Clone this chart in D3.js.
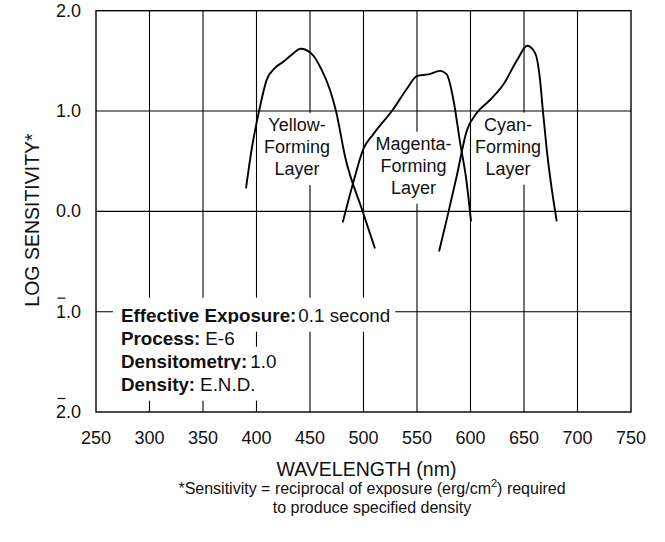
<!DOCTYPE html>
<html>
<head>
<meta charset="utf-8">
<script src="https://cdn.jsdelivr.net/npm/d3@7"></script>
<style>
  html, body { margin: 0; padding: 0; background: #fff; }
  svg { display: block; font-family: "Liberation Sans", Arial, Helvetica, sans-serif; }
</style>
</head>
<body>
<svg id="chart" width="665" height="542"></svg>
<script>
// ---- data ----
const xTicks = [250, 300, 350, 400, 450, 500, 550, 600, 650, 700, 750];
const yTicks = [2, 1, 0, -1, -2];
const yTickLabels = ["2.0", "1.0", "0.0", "1.0", "2.0"];
const yTickBar = [false, false, false, true, true];   // bar (negative characteristic) notation

const yellowWl = [390.2, 395.5, 402.6, 409.5, 417.3, 425, 432.9, 441.3, 451.6, 460.9, 468.7, 474.3, 482.7, 499.2, 510.7];
const yellowLs = [0.23, 0.62, 1.01, 1.31, 1.43, 1.49, 1.56, 1.62, 1.57, 1.41, 1.21, 1.00, 0.55, 0.0, -0.37];

const magentaWl = [480.6, 490.5, 499.8, 509.2, 527.9, 540.4, 550.3, 560.6, 571.5, 577.8, 583.9, 590.2, 596.4, 600.5];
const magentaLs = [-0.11, 0.29, 0.62, 0.77, 1.02, 1.22, 1.35, 1.365, 1.40, 1.365, 1.12, 0.69, 0.29, -0.10];

const cyanWl = [570.6, 577.8, 587.1, 596.4, 605.8, 618.2, 630.7, 643.2, 653.1, 660.3, 665, 667.5, 671.2, 680.6];
const cyanLs = [-0.40, -0.08, 0.35, 0.80, 0.98, 1.11, 1.265, 1.50, 1.65, 1.58, 1.31, 1.02, 0.62, -0.10];

const layerLabels = [
  { lines: ["Yellow-", "Forming", "Layer"], wl: 437.9, ls: 0.582 },
  { lines: ["Magenta-", "Forming", "Layer"], wl: 546.7, ls: 0.395 },
  { lines: ["Cyan-", "Forming", "Layer"], wl: 635.0, ls: 0.585 }
];

const notes = [
  { bold: "Effective Exposure:", value: "0.1 second", gap: 2 },
  { bold: "Process:", value: "E-6", gap: 5 },
  { bold: "Densitometry:", value: "1.0", gap: 3 },
  { bold: "Density:", value: "E.N.D.", gap: 5 }
];

// ---- layout ----
const svg = d3.select("#chart");
const x = d3.scaleLinear().domain([250, 750]).range([96, 631]);
const y = d3.scaleLinear().domain([-2, 2]).range([412, 10.7]);

// grid
const grid = svg.append("g").attr("stroke", "#000").attr("stroke-width", 1.1);
grid.selectAll("line.v").data(xTicks.slice(1, -1)).join("line")
  .attr("x1", d => x(d)).attr("x2", d => x(d))
  .attr("y1", y(2)).attr("y2", y(-2));
grid.selectAll("line.h").data(yTicks.slice(1, -1)).join("line")
  .attr("x1", x(250)).attr("x2", x(750))
  .attr("y1", d => y(d)).attr("y2", d => y(d));

// x tick labels
svg.append("g").selectAll("text").data(xTicks).join("text")
  .attr("x", d => x(d)).attr("y", 444)
  .attr("text-anchor", "middle").attr("font-size", 18).attr("fill", "#111")
  .text(d => d);

// y tick labels with bar notation
const yl = svg.append("g");
yTicks.forEach((t, i) => {
  const tx = yl.append("text")
    .attr("x", 81).attr("y", y(t) + 6)
    .attr("text-anchor", "end").attr("font-size", 18).attr("fill", "#111")
    .text(yTickLabels[i]);
  if (yTickBar[i]) {
    const bb = tx.node().getBBox();
    const w1 = tx.node().getSubStringLength(0, 1);
    yl.append("line")
      .attr("x1", bb.x + 1.5).attr("x2", bb.x + w1 - 0.5)
      .attr("y1", y(t) - 13.5).attr("y2", y(t) - 13.5)
      .attr("stroke", "#111").attr("stroke-width", 1.2);
  }
});

// axis titles
svg.append("text")
  .attr("transform", `translate(39,220) rotate(-90)`)
  .attr("text-anchor", "middle").attr("font-size", 19.5).attr("fill", "#111")
  .text("LOG SENSITIVITY*");
svg.append("text")
  .attr("x", 366.5).attr("y", 476)
  .attr("text-anchor", "middle").attr("font-size", 19.5).attr("fill", "#111")
  .text("WAVELENGTH (nm)");

// footnote
const fn1 = svg.append("text")
  .attr("x", 372).attr("y", 494)
  .attr("text-anchor", "middle").attr("font-size", 16).attr("fill", "#111");
fn1.append("tspan").text("*Sensitivity = reciprocal of exposure (erg/cm");
fn1.append("tspan").attr("dy", -7).attr("font-size", 11).text("2");
fn1.append("tspan").attr("dy", 7).text(") required");
svg.append("text")
  .attr("x", 372).attr("y", 513)
  .attr("text-anchor", "middle").attr("font-size", 16).attr("fill", "#111")
  .text("to produce specified density");

// layer labels with white backgrounds
layerLabels.forEach(lab => {
  const g = svg.append("g");
  const cx = x(lab.wl);
  const cy = y(lab.ls);
  const bg = g.append("rect").attr("fill", "#fff");
  const t = g.append("text")
    .attr("text-anchor", "middle").attr("font-size", 18).attr("fill", "#111");
  lab.lines.forEach((ln, i) => {
    t.append("tspan").attr("x", cx).attr("y", cy + (i - 1) * 22).text(ln);
  });
  const bb = t.node().getBBox();
  bg.attr("x", bb.x - 3).attr("y", bb.y - 2)
    .attr("width", bb.width + 6).attr("height", bb.height + 8);
});

// annotation block
const ng = svg.append("g");
notes.forEach((n, i) => {
  const base = 321.7 + i * 23;
  const bg = ng.append("rect").attr("fill", "#fff");
  const t = ng.append("text").attr("x", 121).attr("y", base)
    .attr("font-size", 18.8).attr("fill", "#111");
  t.append("tspan").attr("font-weight", "bold").text(n.bold);
  t.append("tspan").attr("dx", n.gap).text(n.value);
  const w = t.node().getComputedTextLength() + n.gap;
  bg.attr("x", 113).attr("y", base - (i === 0 ? 24 : 21))
    .attr("width", w + 8 + 5).attr("height", (i === 0 ? 34 : 31));
});
grid.lower();

// curves
const line = d3.line().x(d => x(d[0])).y(d => y(d[1])).curve(d3.curveMonotoneX);
const series = [
  d3.zip(yellowWl, yellowLs),
  d3.zip(magentaWl, magentaLs),
  d3.zip(cyanWl, cyanLs)
];
svg.append("g").selectAll("path").data(series).join("path")
  .attr("d", line).attr("fill", "none")
  .attr("stroke", "#000").attr("stroke-width", 1.9);

// frame
svg.append("rect")
  .attr("x", x(250)).attr("y", y(2))
  .attr("width", x(750) - x(250)).attr("height", y(-2) - y(2))
  .attr("fill", "none").attr("stroke", "#000").attr("stroke-width", 1.4);
</script>
</body>
</html>
